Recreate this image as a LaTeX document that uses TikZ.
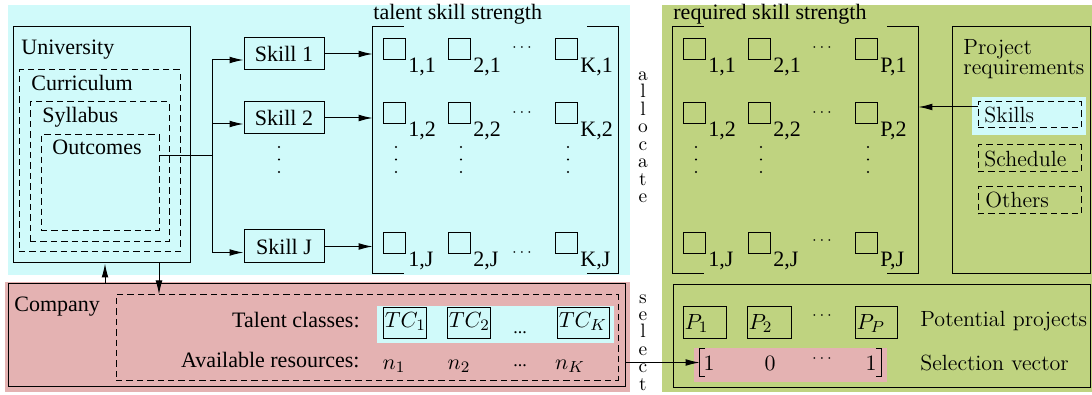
\documentclass[tikz,border=0pt]{standalone}
\usepackage{fontspec}
\newfontfamily\tms{Liberation Serif}
\usetikzlibrary{arrows.meta,calc,fit}

\definecolor{skyfill}{RGB}{208,250,250}
\definecolor{leaffill}{RGB}{191,211,128}
\definecolor{rosefill}{RGB}{228,178,178}

% a small square entry with its index set to the lower right
\newcommand\cellbox[4]{%
  \node[sq] (#3) at (#1,#2) {};
  \node[tx, anchor=base west] (#3s) at ($(#3.south east)+(2,12.5)$) {#4};
}

\tikzset{
  vdts/.pic={\fill (0,-12.5) circle[radius=0.6pt] (0,0) circle[radius=0.6pt] (0,12.5) circle[radius=0.6pt];},
}

\begin{document}
\begin{tikzpicture}[x=0.5pt,y=-0.5pt,
  ln/.style={line width=0.5pt},
  box/.style={draw, line width=0.5pt, inner sep=0pt},
  dbox/.style={box, dash pattern=on 3.2pt off 2pt},
  arr/.style={ln, -{Latex[length=7pt,width=3.4pt]}},
  tx/.style={font=\tms\fontsize{11}{13}\selectfont, inner sep=0pt},
  lmt/.style={font=\fontsize{11}{13}\selectfont, inner sep=0pt},
  sq/.style={box, minimum width=11pt, minimum height=10.5pt, anchor=north west},
  letter/.style={font=\fontsize{9.7}{11}\selectfont, inner sep=0pt, anchor=base},
  dts/.style={font=\fontsize{8.5}{10}\selectfont, inner sep=0pt, anchor=base},
  pdts/.style={font=\tms\fontsize{9}{10}\selectfont, inner sep=0pt, anchor=base},
]
\useasboundingbox (0,0) rectangle (1092,395);

% panels
\fill[skyfill] (8,5) rectangle (630,275);
\fill[leaffill] (662,5) rectangle (1092,392);
\fill[rosefill] (5,282) rectangle (630,392);
\fill[skyfill] (377,306) rectangle (614,343);
\fill[skyfill] (972,97) rectangle (1086,135);
\fill[rosefill] (694,348) rectangle (887,382);

% university hierarchy
\node[box, fit={(13,27) (190,263)}] (uni) {};
\node[dbox, fit={(19,70) (180,252)}] (curr) {};
\node[dbox, fit={(30,102) (169,242)}] (syl) {};
\node[dbox, fit={(41,135) (159,231)}] (outc) {};
\node[tx, anchor=base west] (unil) at (21,55) {University};
\node[tx, anchor=base west] (currl) at (31,91) {Curriculum};
\node[tx, anchor=base west] (syll) at (42,123) {Syllabus};
\node[tx, anchor=base west] (outcl) at (52,155) {Outcomes};

% skills
\node[box, tx, minimum width=40pt, minimum height=16pt] (sk1) at (284,54) {Skill 1};
\node[box, tx, minimum width=40pt, minimum height=16pt] (sk2) at (284,118) {Skill 2};
\node[box, tx, minimum width=40pt, minimum height=16.5pt] (skJ) at (284,246.5) {Skill J};
\pic at (279,159.5) {vdts};

\coordinate (br) at (212,156);
\draw[ln] (outc.east |- br) -- (br);
\draw[arr] (br) |- ($(sk1.west)+(0,6)$);
\draw[arr] (br) |- ($(sk2.west)+(0,6)$);
\draw[arr] (br) |- ($(skJ.west)+(0,6)$);

% talent skill strength matrix
\node[tx, anchor=base west] (tss) at (373,20) {talent skill strength};
\node[inner sep=0pt, fit={(373,27) (618,273)}] (tmat) {};
\draw[ln] ($(tmat.north west)+(31,0)$) -- (tmat.north west) -- (tmat.south west) -- ++(31,0);
\draw[ln] ($(tmat.north east)+(-31,0)$) -- (tmat.north east) -- (tmat.south east) -- ++(-31,0);

\cellbox{383}{38}{t11}{1,1}
\cellbox{448}{38}{t21}{2,1}
\cellbox{555}{38}{tK1}{K,1}
\cellbox{383}{102}{t12}{1,2}
\cellbox{448}{102}{t22}{2,2}
\cellbox{555}{102}{tK2}{K,2}
\cellbox{383}{232}{t1J}{1,J}
\cellbox{448}{232}{t2J}{2,J}
\cellbox{555}{232}{tKJ}{K,J}
\node[dts] (th1) at (522,51.5) {$\cdots$};
\node[dts] (th2) at (522,116.5) {$\cdots$};
\node[dts] (thJ) at (522,256.5) {$\cdots$};
\pic at (396,159.5) {vdts};
\pic at (461,159.5) {vdts};
\pic at (568,159.5) {vdts};

\draw[arr] (sk1.east) -- (sk1.east -| tmat.west);
\draw[arr] (sk2.east) -- (sk2.east -| tmat.west);
\draw[arr] (skJ.east) -- (skJ.east -| tmat.west);

% "allocate", one letter per line
\foreach \c [count=\i] in {a,l,l,o,c,a,t,e}
  \node[letter] (alloc\i) at (643,{80.5+17.5*(\i-1)}) {\c};

% required skill strength matrix
\node[tx, anchor=base west] (rss) at (673,20) {required skill strength};
\node[inner sep=0pt, fit={(673,27) (918,273)}] (rmat) {};
\draw[ln] ($(rmat.north west)+(31,0)$) -- (rmat.north west) -- (rmat.south west) -- ++(31,0);
\draw[ln] ($(rmat.north east)+(-31,0)$) -- (rmat.north east) -- (rmat.south east) -- ++(-31,0);

\cellbox{683}{38}{r11}{1,1}
\cellbox{748}{38}{r21}{2,1}
\cellbox{855}{38}{rP1}{P,1}
\cellbox{683}{102}{r12}{1,2}
\cellbox{748}{102}{r22}{2,2}
\cellbox{855}{102}{rP2}{P,2}
\cellbox{683}{232}{r1J}{1,J}
\cellbox{748}{232}{r2J}{2,J}
\cellbox{855}{232}{rPJ}{P,J}
\node[dts] (rh1) at (822,51.5) {$\cdots$};
\node[dts] (rh2) at (822,116.5) {$\cdots$};
\node[dts] (rhJ) at (822,244.5) {$\cdots$};
\pic at (696,159.5) {vdts};
\pic at (761,159.5) {vdts};
\pic at (868,159.5) {vdts};

% project requirements
\node[box, fit={(952,27) (1090,274)}] (preq) {};
\node[lmt, anchor=base west] (preql1) at (963,55) {Project};
\node[lmt, anchor=base west] (preql2) at (963,75) {requirements};
\node[dbox, fit={(978,102) (1081,128)}] (skl) {};
\node[lmt, anchor=base west] (skll) at (984,123) {Skills};
\node[dbox, fit={(978,145) (1081,172)}] (sch) {};
\node[lmt, anchor=base west] (schl) at (984,167) {Schedule};
\node[dbox, fit={(978,187) (1081,214)}] (oth) {};
\node[lmt, anchor=base west] (othl) at (985,208) {Others};

\coordinate (skout) at ($(skl.west)+(0,-8)$);
\draw[arr] (skout) -- (skout -| rmat.east);

% company
\node[box, fit={(8,284) (625,386)}] (comp) {};
\node[tx, anchor=base west] (compl) at (14,312) {Company};
\node[dbox, fit={(116,295) (618,380)}] (res) {};
\node[tx, anchor=base east] (tcl) at (360,328) {Talent classes:};
\node[tx, anchor=base east] (avl) at (360,367) {Available resources:};

\node[box, fit={(383,307) (426,338)}] (tc1) {};
\node[lmt, anchor=base west] (tc1l) at ($(tc1.north west)+(2,21)$) {$TC_1$};
\node[box, fit={(447,307) (490,338)}] (tc2) {};
\node[lmt, anchor=base west] (tc2l) at ($(tc2.north west)+(2,21)$) {$TC_2$};
\node[box, fit={(557,307) (609,338)}] (tcK) {};
\node[lmt, anchor=base west] (tcKl) at ($(tcK.north west)+(2,21)$) {$TC_K$};
\node[pdts] (tcd) at (520,333) {...};

\node[lmt, anchor=base] (n1) at (394,369) {$n_1$};
\node[lmt, anchor=base] (n2) at (459,369) {$n_2$};
\node[pdts] (nd) at (520,366) {...};
\node[lmt, anchor=base] (nK) at (570,369) {$n_K$};

\coordinate (ux) at (105,0);
\coordinate (dx) at (159,0);
\draw[arr] (comp.north -| ux) -- (uni.south -| ux);
\draw[arr] (uni.south -| dx) -- (res.north -| dx);

% "select", one letter per line
\foreach \c [count=\i] in {s,e,l,e,c,t}
  \node[letter] (sel\i) at (643,{303+17.4*(\i-1)}) {\c};

% potential projects and selection
\node[box, fit={(673,285) (1090,387)}] (pot) {};
\node[box, fit={(683,306) (726,338)}] (p1) {};
\node[lmt, anchor=base west] (p1l) at ($(p1.north west)+(2,24)$) {$P_1$};
\node[box, fit={(747,306) (791,338)}] (p2) {};
\node[lmt, anchor=base west] (p2l) at ($(p2.north west)+(2,24)$) {$P_2$};
\node[box, fit={(855,306) (897,338)}] (pP) {};
\node[lmt, anchor=base west] (pPl) at ($(pP.north west)+(2,24)$) {$P_P$};
\node[dts] (pd) at (822,319.5) {$\cdots$};
\node[lmt, anchor=base west] (potl) at (920,327) {Potential projects};
\node[lmt, anchor=base west] (selvl) at (920,370) {Selection vector};

\node[inner sep=0pt, fit={(700,349) (881,376)}] (sv) {};
\draw[ln] ($(sv.north west)+(5,0)$) -- (sv.north west) -- (sv.south west) -- ++(5,0);
\draw[ln] ($(sv.north east)+(-5,0)$) -- (sv.north east) -- (sv.south east) -- ++(-5,0);
\node[lmt, anchor=base] (sv1) at (709,370) {$1$};
\node[lmt, anchor=base] (sv2) at (770,370) {$0$};
\node[dts] (svd) at (822,362.5) {$\cdots$};
\node[lmt, anchor=base] (svP) at (871,370) {$1$};

\draw[arr] (comp.east |- sv.west) -- (sv.west);
\end{tikzpicture}
\end{document}
